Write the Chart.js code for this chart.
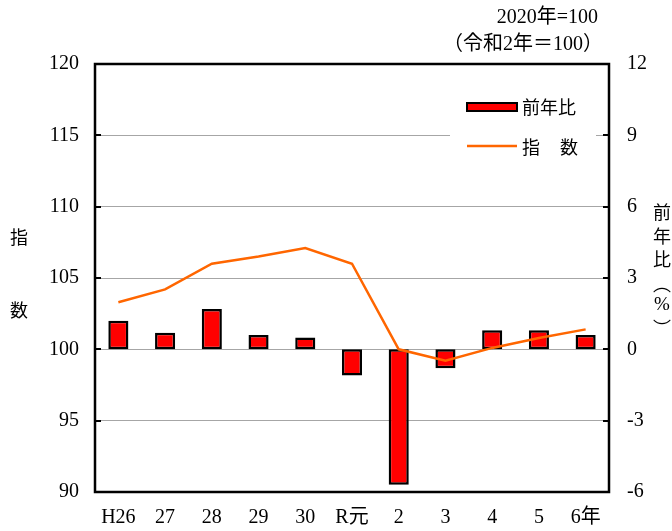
<!DOCTYPE html>
<html>
<head>
<meta charset="utf-8">
<script src="https://cdn.jsdelivr.net/npm/chart.js@4/dist/chart.umd.min.js"></script>
<style>
  html, body { margin: 0; padding: 0; background: #fff; }
  #wrap { width: 672px; height: 531px; position: relative; }
</style>
</head>
<body>
<div id="wrap"><canvas id="c"></canvas></div>
<script>
const categories = ["H26", "27", "28", "29", "30", "R元", "2", "3", "4", "5", "6年"];
const indexValues = [103.3, 104.2, 106.0, 106.5, 107.1, 106.0, 100.0, 99.2, 100.1, 100.8, 101.4];
const yoyValues = [1.2, 0.7, 1.7, 0.6, 0.5, -1.1, -5.7, -0.8, 0.8, 0.8, 0.6];
const leftTicks = [90, 95, 100, 105, 110, 115, 120];
const rightTicks = [-6, -3, 0, 3, 6, 9, 12];

const FONT = '"Liberation Serif", "Noto Sans CJK JP", serif';
const JP = '"Noto Sans CJK JP", sans-serif';

// frame, inner tick marks, legend box, titles
const decor = {
  id: "decor",
  afterDatasetsDraw(chart) {
    const { ctx, chartArea: a } = chart;
    const yl = chart.scales.y;
    ctx.save();
    // legend
    ctx.fillStyle = "#fff";
    ctx.fillRect(450, 88, 146, 78);
    ctx.fillStyle = "#ff0000";
    ctx.strokeStyle = "#000";
    ctx.lineWidth = 2;
    ctx.fillRect(467, 103, 50, 8);
    ctx.strokeRect(467, 103, 50, 8);
    ctx.strokeStyle = "#ff6600";
    ctx.lineWidth = 2.5;
    ctx.beginPath();
    ctx.moveTo(467, 146);
    ctx.lineTo(517, 146);
    ctx.stroke();
    ctx.fillStyle = "#000";
    ctx.font = "18px " + JP;
    ctx.textBaseline = "middle";
    ctx.textAlign = "left";
    ctx.fillText("前年比", 522, 107);
    ctx.fillText("指", 522, 147);
    ctx.fillText("数", 560, 147);

    // inner ticks
    ctx.strokeStyle = "#000";
    ctx.lineWidth = 2;
    leftTicks.forEach(v => {
      const y = Math.round(yl.getPixelForValue(v));
      ctx.beginPath();
      ctx.moveTo(a.left, y);
      ctx.lineTo(a.left + 6, y);
      ctx.moveTo(a.right, y);
      ctx.lineTo(a.right - 6, y);
      ctx.stroke();
    });
    // frame
    ctx.lineWidth = 2.5;
    ctx.strokeRect(a.left, a.top, a.right - a.left, a.bottom - a.top);

    // header notes
    ctx.font = "20px " + FONT;
    ctx.textAlign = "right";
    ctx.fillText("2020年=100", 598, 18);
    ctx.fillText("（令和2年＝100）", 603, 45);

    // axis titles
    ctx.font = "18px " + JP;
    ctx.textAlign = "center";
    ctx.fillText("指", 19, 237);
    ctx.fillText("数", 19, 310);
    const rt = ["前", "年", "比", "︵", "%", "︶"];
    const ry = [212, 236, 259, 284, 305, 328];
    rt.forEach((t, i) => {
      ctx.font = (t === "%" ? "19px " + FONT : "18px " + JP);
      ctx.fillText(t, 662, ry[i]);
    });
    ctx.restore();
  }
};

new Chart(document.getElementById("c"), {
  data: {
    labels: categories,
    datasets: [
      {
        type: "line",
        label: "指　数",
        data: indexValues,
        yAxisID: "y",
        borderColor: "#ff6600",
        borderWidth: 2.5,
        pointRadius: 0,
        tension: 0,
        order: 0
      },
      {
        type: "bar",
        label: "前年比",
        data: yoyValues,
        yAxisID: "y1",
        backgroundColor: "#ff0000",
        borderColor: "#000",
        borderWidth: 2.5,
        borderSkipped: false,
        barPercentage: 0.43,
        categoryPercentage: 1,
        order: 1
      }
    ]
  },
  options: {
    responsive: true,
    maintainAspectRatio: false,
    animation: false,
    layout: { padding: { top: 64, left: 0, right: 0, bottom: 0 } },
    plugins: { legend: { display: false }, tooltip: { enabled: false } },
    scales: {
      x: {
        offset: true,
        grid: { display: false, drawTicks: false },
        border: { display: false },
        ticks: { color: "#000", font: { family: FONT, size: 20 }, padding: 14, maxRotation: 0 },
        afterFit(s) { s.height = 39; }
      },
      y: {
        position: "left",
        min: 90,
        max: 120,
        afterBuildTicks(s) { s.ticks = leftTicks.map(v => ({ value: v })); },
        grid: {
          drawTicks: false,
          color: ctx => (ctx.tick && (ctx.tick.value === 90 || ctx.tick.value === 120)) ? "rgba(0,0,0,0)" : "#a6a6a6",
          lineWidth: 1
        },
        border: { display: false },
        ticks: { color: "#000", font: { family: FONT, size: 20 }, padding: 16 },
        afterFit(s) { s.width = 95; }
      },
      y1: {
        position: "right",
        min: -6,
        max: 12,
        afterBuildTicks(s) { s.ticks = rightTicks.map(v => ({ value: v })); },
        grid: { display: false, drawTicks: false },
        border: { display: false },
        ticks: { color: "#000", font: { family: FONT, size: 20 }, padding: 18 },
        afterFit(s) { s.width = 63; }
      }
    }
  },
  plugins: [decor]
});
</script>
</body>
</html>
